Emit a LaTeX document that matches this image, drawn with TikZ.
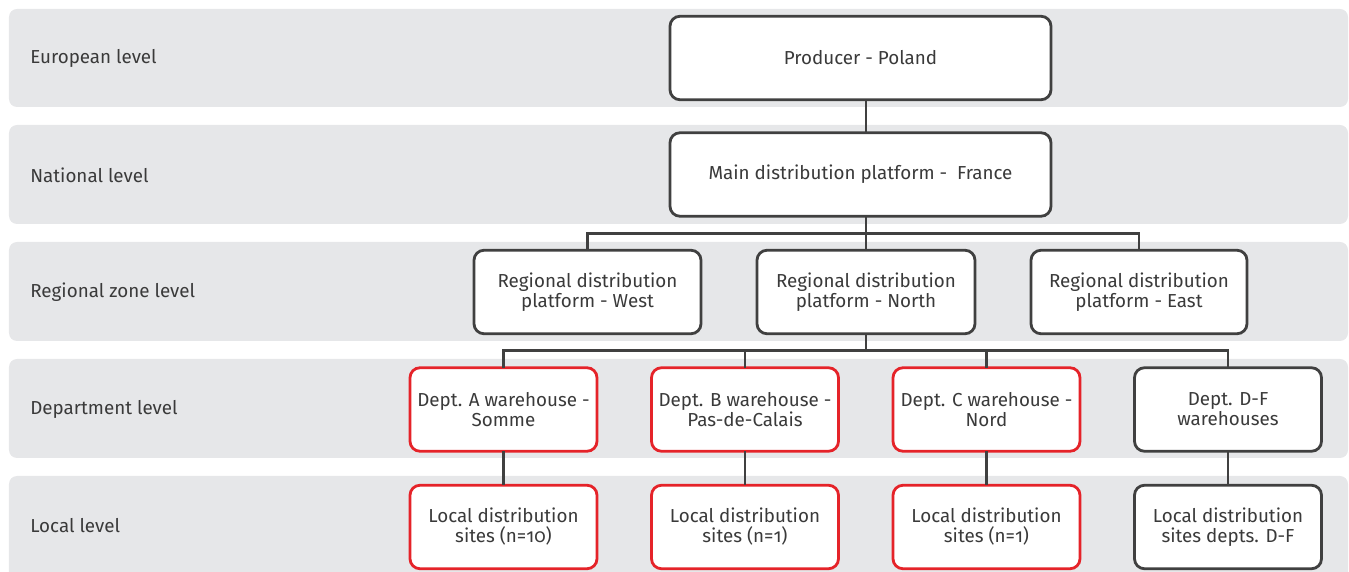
\documentclass[tikz,border=0pt]{standalone}
\usepackage{fontspec}
\setmainfont{Fira Sans}[Numbers=OldStyle, RawFeature={+onum}]
\usepackage{xcolor}
\usetikzlibrary{positioning}

\definecolor{bandgray}{HTML}{E6E7E9}
\definecolor{linegray}{HTML}{404040}
\definecolor{txtgray}{HTML}{3A3A3A}
\definecolor{deptred}{HTML}{E52329}

\tikzset{
    box/.style={draw=linegray, line width=1.6pt, rounded corners=0.2cm, fill=white, align=center, outer sep=0pt,
        text=txtgray, minimum height=1.67cm, inner sep=2pt, font=\fontsize{10.7}{11.4}\selectfont},
    redbox/.style={box, draw=deptred},
    link/.style={draw=linegray, line width=1.6pt},
    levellabel/.style={anchor=west, text=txtgray, inner sep=0pt, font=\fontsize{10.7}{11.4}\selectfont}
}

\begin{document}
\begin{tikzpicture}
        \clip (0,0) rectangle (26.98,-11.44); % page size
        \foreach \t/\b in {0.18/2.14, 2.50/4.48, 4.84/6.82, 7.18/9.16, 9.52/11.9}
            \fill[bandgray, rounded corners=0.16cm] (0.18,-\t) rectangle (26.96,-\b); % grey bands
        \node [levellabel] (lvEU) at (0.6,-1.16) {European level};
        \node [levellabel] (lvNat) at (0.6,-3.50) {National level};
        \node [levellabel] (lvReg) at (0.6,-5.84) {Regional zone level};
        \node [levellabel] (lvDept) at (0.6,-8.18) {Department level};
        \node [levellabel] (lvLoc) at (0.6,-10.52) {Local level};
        \node [box, minimum width=7.62cm] (prod) at (17.21,-1.16) {Producer - Poland}; % top box
        \node [box, minimum width=7.62cm, below=0.66cm of prod] (main) {Main distribution platform -\ \ France};
        \node [box, minimum width=4.36cm, below=0.68cm of main, xshift=0.11cm] (north) {Regional distribution\\platform - North};
        \node [box, minimum width=4.54cm, left=1.12cm of north] (west) {Regional distribution\\platform - West};
        \node [box, minimum width=4.32cm, right=1.12cm of north] (east) {Regional distribution\\platform - East};
        \node [redbox, minimum width=3.74cm, below=0.68cm of north, xshift=2.41cm] (deptC) {Dept. C warehouse -\\Nord};
        \node [redbox, minimum width=3.74cm, left=1.09cm of deptC] (deptB) {Dept. B warehouse -\\Pas-de-Calais};
        \node [redbox, minimum width=3.74cm, left=1.09cm of deptB] (deptA) {Dept. A warehouse -\\Somme};
        \node [box, minimum width=3.74cm, right=1.09cm of deptC] (deptD) {Dept. D-F\\warehouses};
        \node [redbox, minimum width=3.74cm, below=0.68cm of deptA] (locA) {Local distribution\\sites (n=10)};
        \node [redbox, minimum width=3.74cm, below=0.68cm of deptB] (locB) {Local distribution\\sites (n=1)};
        \node [redbox, minimum width=3.74cm, below=0.68cm of deptC] (locC) {Local distribution\\sites (n=1)};
        \node [box, minimum width=3.74cm, below=0.68cm of deptD] (locD) {Local distribution\\sites depts. D-F};
        % connectors
        \draw [link] (prod.south -| north.north) -- (main.north -| north.north);
        \draw [link] (main.south -| north.north) -- (north.north);
        \draw [link] (west.north) -- ++(0,0.34) -| (east.north);
        \draw [link] (north.south) -- ++(0,-0.34);
        \draw [link] (deptA.north) -- ++(0,0.34) -| (deptD.north);
        \draw [link] (deptB.north) -- ++(0,0.34);
        \draw [link] (deptC.north) -- ++(0,0.34);
        \draw [link] (deptA) -- (locA);
        \draw [link] (deptB) -- (locB);
        \draw [link] (deptC) -- (locC);
        \draw [link] (deptD) -- (locD);
\end{tikzpicture}
\end{document}
